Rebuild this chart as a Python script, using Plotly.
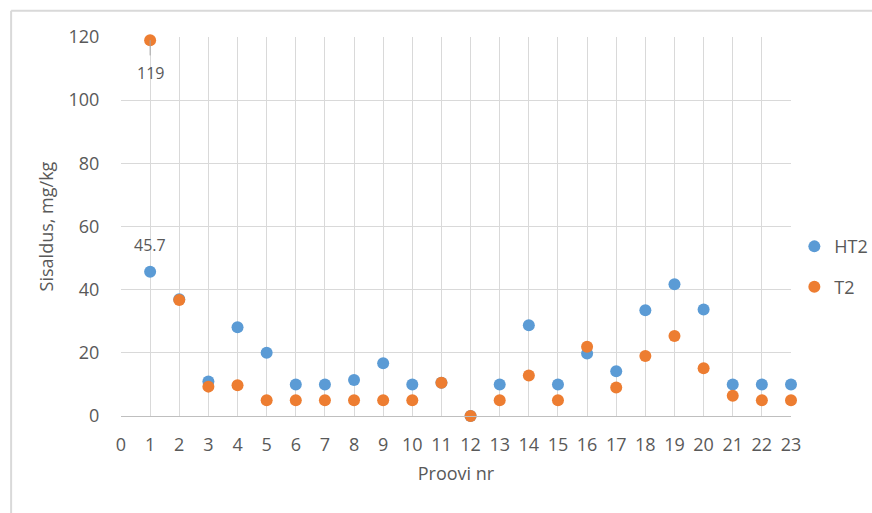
import plotly.graph_objects as go

samples = list(range(1, 24))
ht2 = [45.7, 37.0, 10.9, 28.1, 20.0, 10.0, 10.0, 11.4, 16.7, 10.0, 10.5, 0.0,
       10.0, 28.7, 10.0, 19.8, 14.2, 33.5, 41.7, 33.7, 10.0, 10.0, 10.0]
t2 = [119.0, 36.7, 9.3, 9.7, 5.0, 5.0, 5.0, 5.0, 5.0, 5.0, 10.5, 0.0,
      5.0, 12.8, 5.0, 21.9, 9.0, 19.0, 25.3, 15.1, 6.4, 5.0, 5.0]

BLUE = "#5b9bd5"
ORANGE = "#ed7d31"
TXT = "#595959"
GRID = "#d9d9d9"
FONT = "Open Sans"
CLEAR = "rgba(0,0,0,0)"

fig = go.Figure()
fig.add_trace(go.Scatter(x=samples, y=ht2, mode="markers", name="HT2",
                         legendgroup="a",
                         marker=dict(color=BLUE, size=12), cliponaxis=False))
fig.add_trace(go.Scatter(x=samples, y=t2, mode="markers", name="T2",
                         legendgroup="b",
                         marker=dict(color=ORANGE, size=12), cliponaxis=False))

# data labels
fig.add_annotation(x=1, y=t2[0], ax=1, ay=113.7, axref="x", ayref="y",
                   showarrow=True, arrowhead=0, arrowcolor="#a6a6a6", arrowwidth=1,
                   text="", standoff=0, startstandoff=0)
fig.add_annotation(x=1, y=108.5, text=str(int(t2[0])), showarrow=False,
                   font=dict(size=16, color=TXT, family=FONT))
fig.add_annotation(x=1, y=54.3, text=str(ht2[0]), showarrow=False,
                   font=dict(size=16, color=TXT, family=FONT))

# chart border (top and left visible)
fig.add_shape(type="line", xref="paper", yref="paper", x0=-0.164, x1=1.2,
              y0=1.069, y1=1.069, line=dict(color="#d9d9d9", width=2))
fig.add_shape(type="line", xref="paper", yref="paper", x0=-0.164, x1=-0.164,
              y0=1.069, y1=-0.3, line=dict(color="#d9d9d9", width=2))

fig.update_layout(
    width=872, height=513,
    margin=dict(l=121, r=81, t=37, b=97, autoexpand=False),
    paper_bgcolor="white", plot_bgcolor="white",
    font=dict(family=FONT, color=TXT, size=18),
    legend=dict(x=1.005, y=0.394, xanchor="left", yanchor="middle",
                traceorder="grouped", tracegroupgap=14,
                font=dict(size=18, color=TXT, family=FONT),
                itemwidth=30),
    xaxis=dict(range=[0, 23], tickmode="linear", tick0=0, dtick=1,
               showgrid=True, gridcolor=GRID, gridwidth=1,
               showline=True, linecolor="#bfbfbf", linewidth=1,
               zeroline=False, ticks="outside", ticklen=12, tickcolor=CLEAR,
               title=dict(text="Proovi nr", font=dict(size=18, color=TXT), standoff=12),
               tickfont=dict(size=18, color=TXT)),
    yaxis=dict(range=[0, 120], tickmode="linear", tick0=0, dtick=20,
               showgrid=True, gridcolor=GRID, gridwidth=1,
               showline=False, zeroline=False, ticks="outside", ticklen=17,
               tickcolor=CLEAR,
               title=dict(text="Sisaldus, mg/kg", font=dict(size=18, color=TXT), standoff=10),
               tickfont=dict(size=18, color=TXT)),
)

fig.write_html("out.html")
